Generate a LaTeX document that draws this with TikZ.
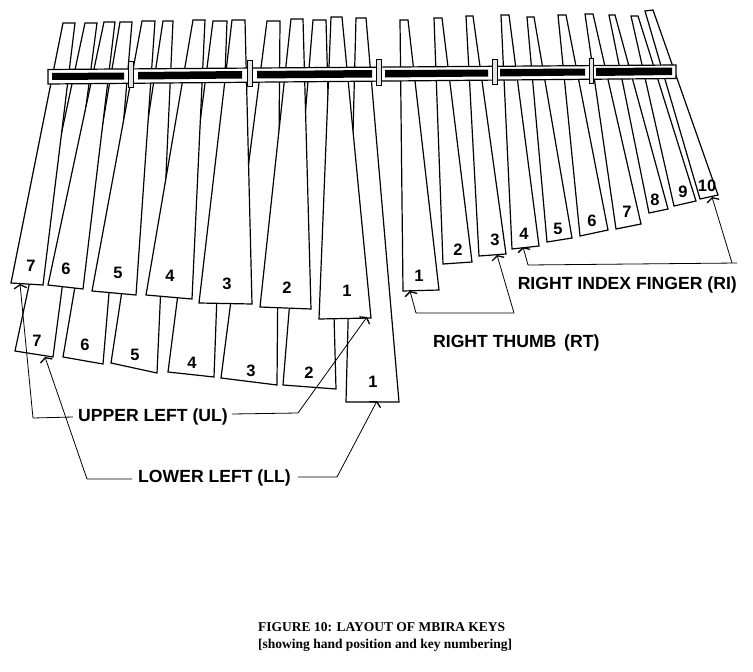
\documentclass[tikz,border=0pt]{standalone}
\usepackage{xcolor}
\usepackage{fontspec}
\setmainfont{Liberation Serif}
\setsansfont{Liberation Sans}
\usetikzlibrary{arrows.meta}
\definecolor{barc}{HTML}{E4E4E4}
\tikzset{
  keyc/.style={draw=black, fill=white, line width=1.2pt, line join=miter},
  numc/.style={inner sep=0pt, font=\sffamily\bfseries\fontsize{16.5}{17}\selectfont},
  handc/.style={inner sep=0pt, font=\sffamily\bfseries\fontsize{17.6}{18}\selectfont},
  leadc/.style={draw=black, line width=0.8pt, rounded corners=0.5pt, -{Straight Barb[length=3.5pt,width=12.5pt,line width=1.3pt]}},
  slotc/.style={fill=black},
  clampc/.style={draw=black, fill=barc, line width=0.9pt}
}

\begin{document}
\begin{tikzpicture}[x=1pt, y=-1pt]
  \useasboundingbox (0,0) rectangle (753,672);
  % lower left keys
  \draw[keyc] (85,23) -- (97,23) -- (53,357) -- (15,351) -- cycle;
  \draw[keyc] (120,22) -- (132,22) -- (103,364) -- (63,357) -- cycle;
  \draw[keyc] (163,21) -- (173,21) -- (157,373) -- (111,363) -- cycle;
  \draw[keyc] (213,21) -- (227,21) -- (214,377) -- (168,372) -- cycle;
  \draw[keyc] (267,21) -- (280,21) -- (277,385) -- (221,378) -- cycle;
  \draw[keyc] (313,20) -- (326,20) -- (336,389) -- (283,385) -- cycle;
  \draw[keyc] (356,18) -- (366,18) -- (399,402) -- (346,402) -- cycle;
  % upper left keys
  \draw[keyc] (63,23) -- (75,23) -- (43,285) -- (11,283) -- cycle;
  \draw[keyc] (104,22) -- (115,22) -- (83,289) -- (48,285) -- cycle;
  \draw[keyc] (142,21) -- (155,21) -- (136,295) -- (92,291) -- cycle;
  \draw[keyc] (193,20) -- (205,20) -- (192,299) -- (146,295) -- cycle;
  \draw[keyc] (232,20) -- (245,20) -- (252,304) -- (199,303) -- cycle;
  \draw[keyc] (291,19) -- (303,19) -- (311,309) -- (260,307) -- cycle;
  \draw[keyc] (331,17) -- (342,17) -- (371,318) -- (319,319) -- cycle;
  % right keys
  \draw[keyc] (400,20) -- (408,20) -- (439,290) -- (403,291) -- cycle;
  \draw[keyc] (434,18) -- (442,18) -- (472,262) -- (443,264) -- cycle;
  \draw[keyc] (466,16) -- (473,16) -- (506,254) -- (479,256) -- cycle;
  \draw[keyc] (501,15) -- (509,15) -- (539,246) -- (512,249) -- cycle;
  \draw[keyc] (527,17) -- (534,17) -- (572,238) -- (547,242) -- cycle;
  \draw[keyc] (558,15) -- (566,15) -- (608,230) -- (580,236) -- cycle;
  \draw[keyc] (585,14) -- (593,14) -- (641,224) -- (616,229) -- cycle;
  \draw[keyc] (609,15) -- (615,15) -- (668,209) -- (649,213) -- cycle;
  \draw[keyc] (631,16) -- (638,16) -- (696,201) -- (674,206) -- cycle;
  \draw[keyc] (645,11) -- (653,10) -- (718,195) -- (700,199) -- cycle;
  % bar and slots
  \draw[keyc] (48,69.5) -- (676,65) -- (676,78.5) -- (48,84) -- cycle;
  \fill[slotc] (52,73) -- (124,72.5) -- (124,79.5) -- (52,80) -- cycle;
  \fill[slotc] (138,72) -- (242,71) -- (242,78.5) -- (138,79.5) -- cycle;
  \fill[slotc] (257,71) -- (372,70) -- (372,77.5) -- (257,78.5) -- cycle;
  \fill[slotc] (385,70) -- (488,69.5) -- (488,76.5) -- (385,77.5) -- cycle;
  \fill[slotc] (500,69) -- (585,68.5) -- (585,75.5) -- (500,76.5) -- cycle;
  \fill[slotc] (596,68) -- (672,67.5) -- (672,75) -- (596,76) -- cycle;
  % clamps
  \draw[clampc] (128.5,61) rectangle (133.5,87);
  \draw[clampc] (247,60) rectangle (252,86);
  \draw[clampc] (376.5,59) rectangle (381,85);
  \draw[clampc] (492,59) rectangle (497,84);
  \draw[clampc] (589,58) rectangle (593.5,83);
  % key numbers
  \node[numc] (ul7) at (31,266) {7};
  \node[numc] (ul6) at (66,269) {6};
  \node[numc] (ul5) at (118,273) {5};
  \node[numc] (ul4) at (170,276) {4};
  \node[numc] (ul3) at (227,284) {3};
  \node[numc] (ul2) at (287,288) {2};
  \node[numc] (ul1) at (347,291) {1};
  \node[numc] (ll7) at (37,341) {7};
  \node[numc] (ll6) at (85,345) {6};
  \node[numc] (ll5) at (135,355) {5};
  \node[numc] (ll4) at (192,363) {4};
  \node[numc] (ll3) at (251,371) {3};
  \node[numc] (ll2) at (309,373) {2};
  \node[numc] (ll1) at (373,382) {1};
  \node[numc] (r1) at (419,276) {1};
  \node[numc] (r2) at (458,250) {2};
  \node[numc] (r3) at (495,240) {3};
  \node[numc] (r4) at (524,234) {4};
  \node[numc] (r5) at (558,229) {5};
  \node[numc] (r6) at (592,221) {6};
  \node[numc] (r7) at (627,212) {7};
  \node[numc] (r8) at (655,200) {8};
  \node[numc] (r9) at (683,192) {9};
  \node[numc] (r10) at (707,186) {10};
  % hand labels
  \node[handc, anchor=west] (ulabel) at (78,417) {UPPER LEFT (UL)};
  \node[handc, anchor=west] (llabel) at (138,478) {LOWER LEFT (LL)};
  \node[handc, anchor=west] (rtlabel) at (433,343) {RIGHT THUMB\, (RT)};
  \node[handc, anchor=east] (rilabel) at (737,285) {RIGHT INDEX FINGER (RI)};
  \node[inner sep=0pt, anchor=north west, align=left, font=\bfseries\fontsize{13.5}{16.5}\selectfont] (caption) at (258,622.5) {FIGURE 10: LAYOUT OF MBIRA KEYS\\{[showing hand position and key numbering]}};
  % ends of the leaders
  \coordinate (ulend) at (20,284);
  \coordinate (urend) at (367,317);
  \coordinate (llend) at (45,357);
  \coordinate (lrend) at (377,401);
  \coordinate (rtend) at (410,291);
  \coordinate (rtmid) at (497,255);
  \coordinate (riend) at (523,247);
  \coordinate (rimid) at (712,197);
  \coordinate (rtleft) at (416,313);
  \coordinate (rtright) at (514,313);
  \coordinate (rileft) at (528,265);
  \coordinate (riright) at (737,263);
  \coordinate (ribend) at (732,263);
  % leaders
  \draw[leadc] (ulabel.west) ++(-5,0) -- (33,418) -- (ulend);
  \draw[leadc] (ulabel.east) ++(4,-3) -- (298,413) -- (urend);
  \draw[leadc] (llabel.west) ++(-6,1) -- (87,479) -- (llend);
  \draw[leadc] (llabel.east) ++(7,-1) -- (337,477) -- (lrend);
  \draw[leadc] (rtright) -- (rtleft) -- (rtend);
  \draw[leadc] (rtright) -- (rtmid);
  \draw[leadc] (riright) -- (rileft) -- (riend);
  \draw[leadc] (ribend) -- (rimid);
\end{tikzpicture}
\end{document}
